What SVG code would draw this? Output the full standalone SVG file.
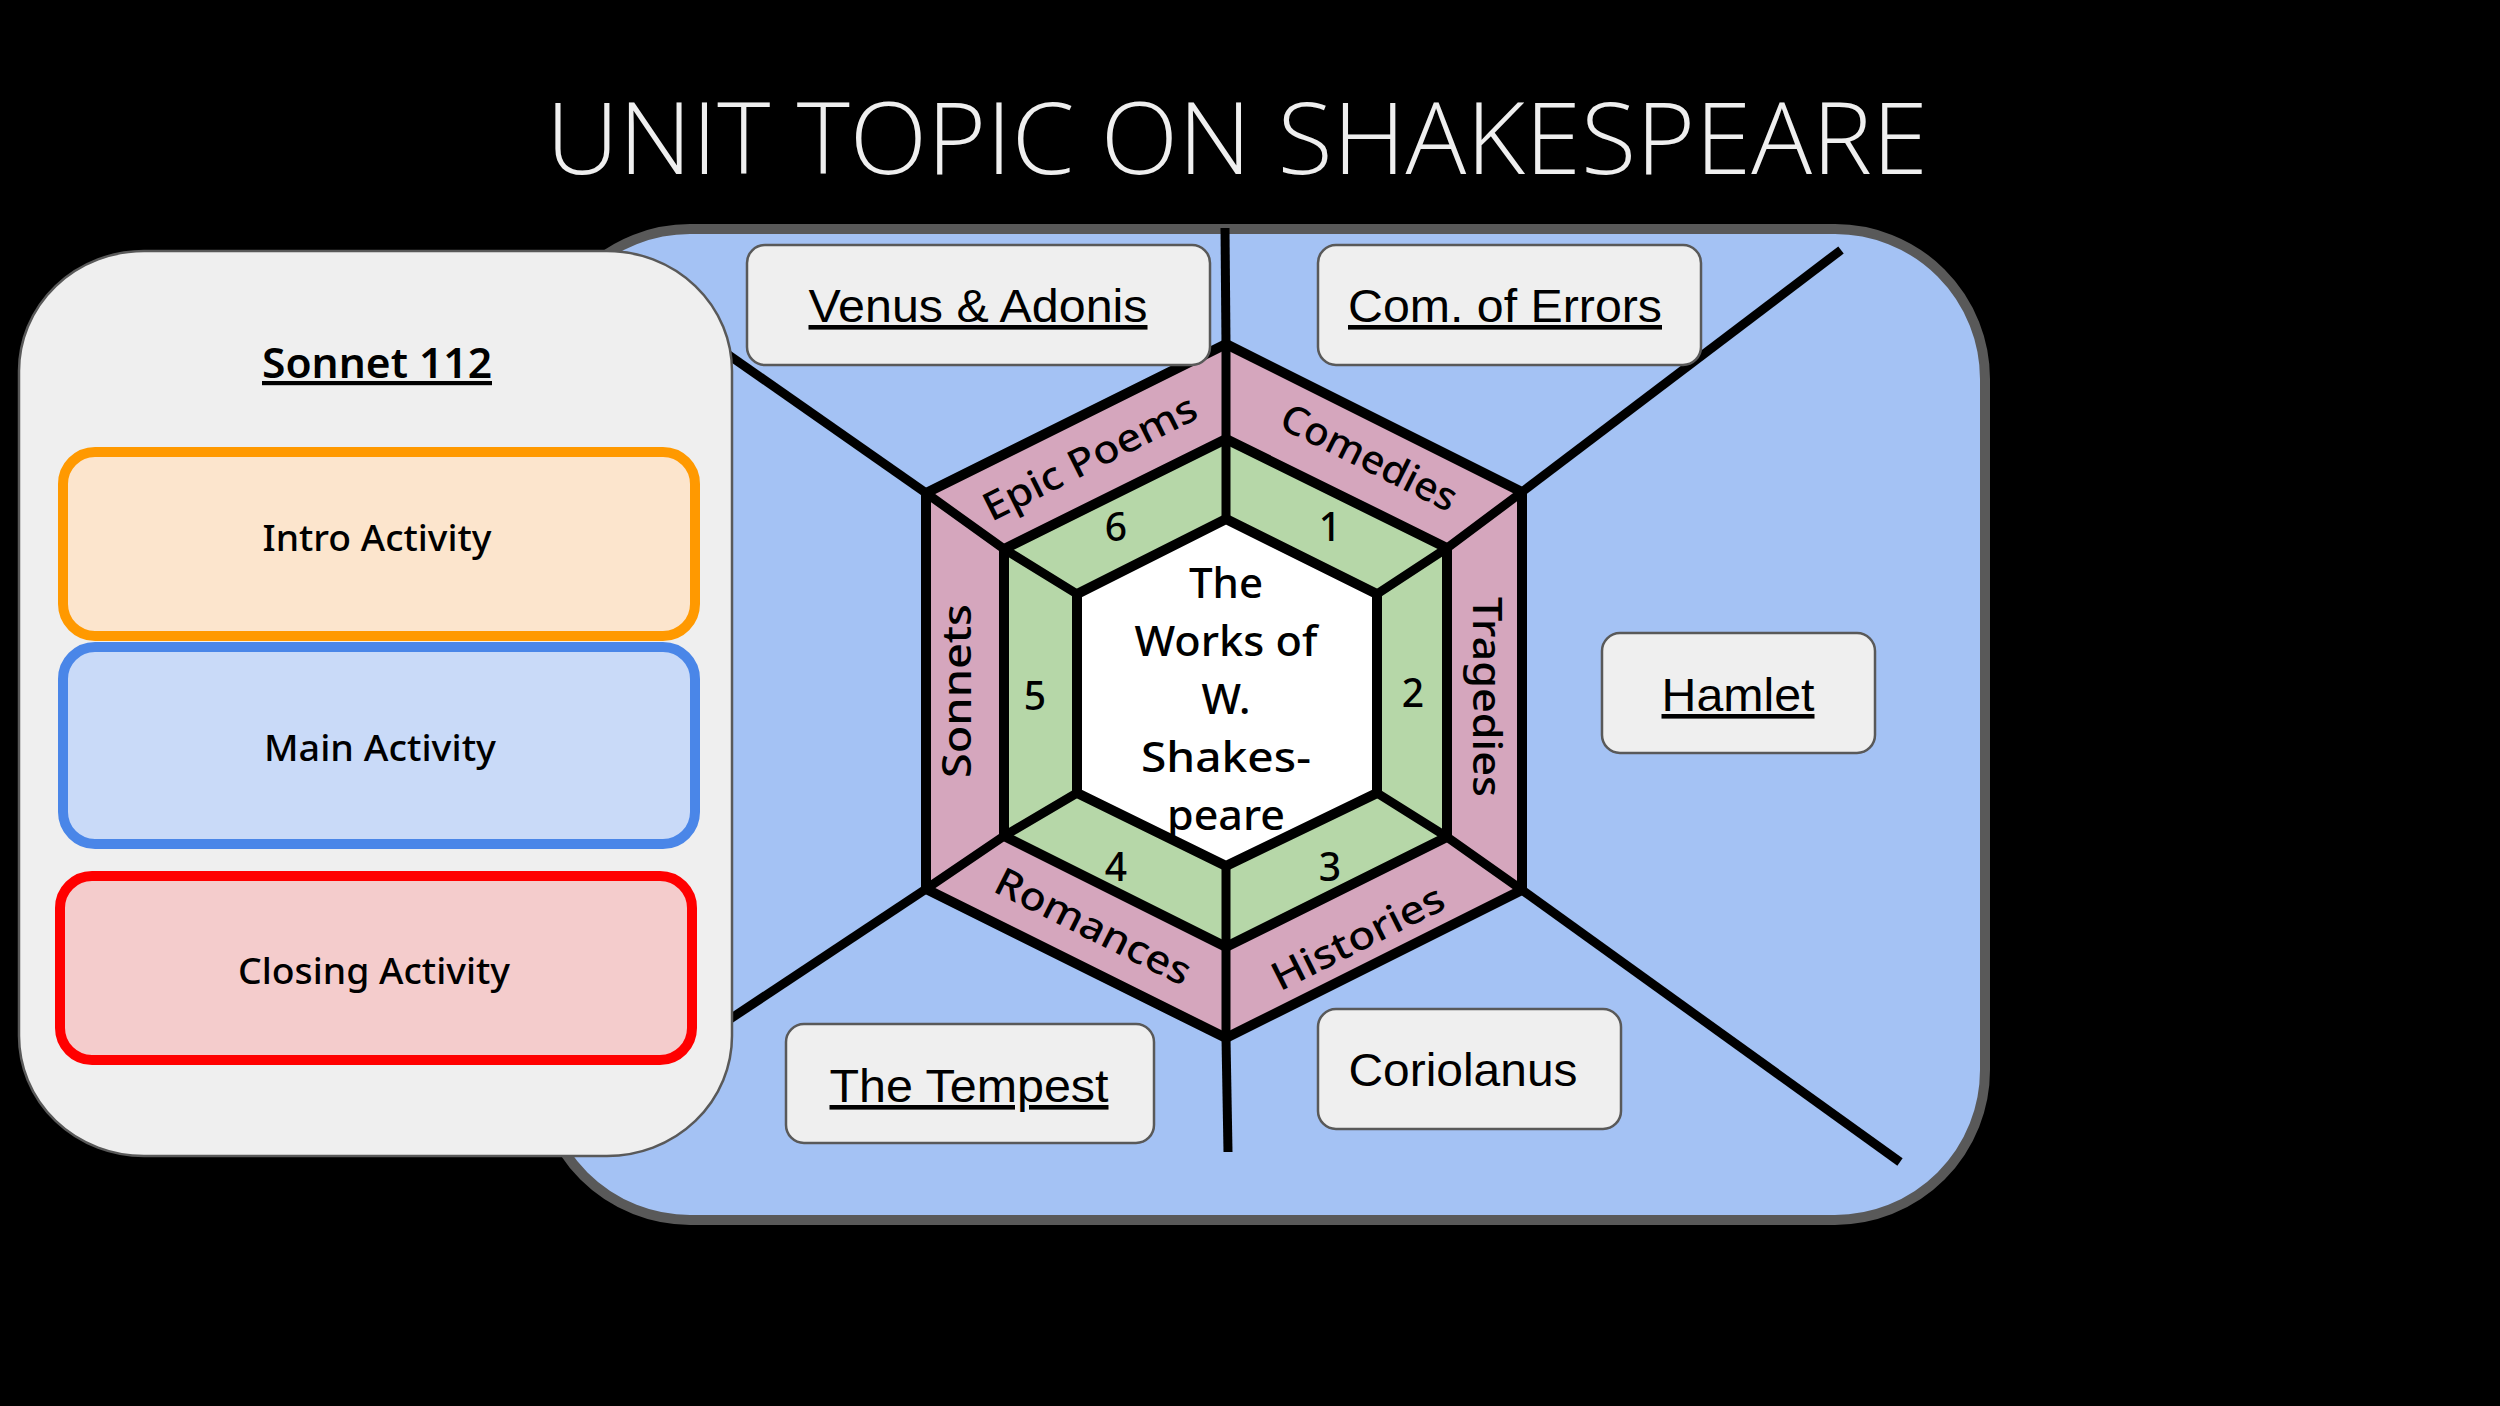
<svg xmlns="http://www.w3.org/2000/svg" width="2500" height="1406" viewBox="0 0 2500 1406">
<style>
.book{fill:#efefef;stroke:#595959;stroke-width:2.5}
.booktxt{font-family:"Liberation Sans",Arial,sans-serif;font-size:46px;fill:#000;text-anchor:middle}
.ul{text-decoration:underline}
.line{stroke:#000;stroke-width:9;fill:none;stroke-linecap:butt}
.hex{stroke:#000;stroke-width:10;stroke-linejoin:miter}
.lab{font-family:"Noto Sans","DejaVu Sans",sans-serif;font-size:39px;font-weight:500;fill:#000;text-anchor:middle}
.num{font-family:"Noto Sans","DejaVu Sans",sans-serif;font-size:39px;font-weight:500;fill:#000;text-anchor:middle}
.ctr{font-family:"Noto Sans","DejaVu Sans",sans-serif;font-size:42px;font-weight:500;fill:#000;text-anchor:middle}
.act{font-family:"Noto Sans","DejaVu Sans",sans-serif;font-size:37px;font-weight:500;fill:#000;text-anchor:middle}
</style>
<rect x="0" y="0" width="2500" height="1406" fill="#000"/>
<text id="title" x="1237" y="174" text-anchor="middle" font-family="'Open Sans','Noto Sans',sans-serif" font-weight="300" font-size="100" textLength="1382" lengthAdjust="spacingAndGlyphs" fill="#efefef">UNIT TOPIC ON SHAKESPEARE</text>

<g id="container">
<rect x="540" y="229" width="1445" height="991" rx="150" ry="150" fill="#a4c2f4" stroke="#595959" stroke-width="10"/>
</g>

<g id="connectors">
<line class="line" x1="1225" y1="228" x2="1226" y2="344"/>
<line class="line" x1="1226" y1="1038" x2="1228" y2="1152"/>
<line class="line" x1="1522" y1="492" x2="1841" y2="250"/>
<line class="line" x1="1522" y1="890" x2="1900" y2="1162"/>
<line class="line" x1="926" y1="493" x2="700" y2="335"/>
<line class="line" x1="926" y1="889" x2="700" y2="1039"/>
</g>

<g id="hexagon">
<polygon class="hex" fill="#d5a6bd" points="1226,344 1522,492 1522,890 1226,1038 926,889 926,493"/>
<polygon class="hex" fill="#b6d7a8" points="1226,439 1447,548 1447,837 1226,947 1004,836 1004,549"/>
<polygon class="hex" fill="#ffffff" points="1226,519 1377,594 1377,793 1226,866 1077,793 1077,594"/>
<polyline class="line" points="1226,344 1226,439 1226,519"/>
<polyline class="line" points="1522,492 1447,548 1377,594"/>
<polyline class="line" points="1522,890 1447,837 1377,793"/>
<polyline class="line" points="1226,1038 1226,947 1226,866"/>
<polyline class="line" points="926,889 1004,836 1077,793"/>
<polyline class="line" points="926,493 1004,549 1077,594"/>
</g>

<g id="genre-comedies"><text class="lab" transform="translate(1369,458) rotate(26.6)" y="13" textLength="192" lengthAdjust="spacingAndGlyphs">Comedies</text></g>
<g id="genre-tragedies"><text class="lab" transform="translate(1486,697) rotate(90)" y="13" textLength="200" lengthAdjust="spacingAndGlyphs">Tragedies</text></g>
<g id="genre-histories"><text class="lab" transform="translate(1358,938) rotate(-26.6)" y="13" textLength="188" lengthAdjust="spacingAndGlyphs">Histories</text></g>
<g id="genre-romances"><text class="lab" transform="translate(1093,927) rotate(26.6)" y="13" textLength="214" lengthAdjust="spacingAndGlyphs">Romances</text></g>
<g id="genre-sonnets"><text class="lab" transform="translate(958,691) rotate(-90)" y="13" textLength="174" lengthAdjust="spacingAndGlyphs">Sonnets</text></g>
<g id="genre-epic"><text class="lab" transform="translate(1090,458) rotate(-26.6)" y="13" textLength="234" lengthAdjust="spacingAndGlyphs">Epic Poems</text></g>

<g id="numbers">
<text class="num" x="1330" y="541">1</text>
<text class="num" x="1413" y="707">2</text>
<text class="num" x="1330" y="881">3</text>
<text class="num" x="1116" y="881">4</text>
<text class="num" x="1035" y="710">5</text>
<text class="num" x="1116" y="541">6</text>
</g>

<g id="center">
<text class="ctr" x="1226" y="598">The</text>
<text class="ctr" x="1226" y="656" textLength="183" lengthAdjust="spacingAndGlyphs">Works of</text>
<text class="ctr" x="1226" y="714">W.</text>
<text class="ctr" x="1226" y="772" textLength="170" lengthAdjust="spacingAndGlyphs">Shakes-</text>
<text class="ctr" x="1226" y="830" textLength="118" lengthAdjust="spacingAndGlyphs">peare</text>
</g>

<g id="venus">
<rect class="book" x="747" y="245" width="463" height="120" rx="18"/>
<text class="booktxt ul" x="978" y="322" textLength="339" lengthAdjust="spacingAndGlyphs">Venus &amp; Adonis</text>
</g>
<g id="errors">
<rect class="book" x="1318" y="245" width="383" height="120" rx="18"/>
<text class="booktxt ul" x="1505" y="322" textLength="314" lengthAdjust="spacingAndGlyphs">Com. of Errors</text>
</g>
<g id="hamlet">
<rect class="book" x="1602" y="633" width="273" height="120" rx="18"/>
<text class="booktxt ul" x="1738" y="711" textLength="153" lengthAdjust="spacingAndGlyphs">Hamlet</text>
</g>
<g id="tempest">
<rect class="book" x="786" y="1024" width="368" height="119" rx="18"/>
<text class="booktxt ul" x="969" y="1102" textLength="279" lengthAdjust="spacingAndGlyphs">The Tempest</text>
</g>
<g id="coriolanus">
<rect class="book" x="1318" y="1009" width="303" height="120" rx="18"/>
<text class="booktxt" x="1463" y="1086" textLength="229" lengthAdjust="spacingAndGlyphs">Coriolanus</text>
</g>

<g id="lesson-panel">
<rect x="19" y="251" width="713" height="905" rx="125" ry="120" fill="#efefef" stroke="#595959" stroke-width="2.5"/>
<text x="377" y="378" text-anchor="middle" font-family="'Noto Sans','DejaVu Sans',sans-serif" font-size="42" font-weight="600" text-decoration="underline" textLength="230" lengthAdjust="spacingAndGlyphs">Sonnet 112</text>
</g>
<g id="intro">
<rect x="63" y="452" width="632" height="184" rx="32" fill="#fce5cd" stroke="#ff9900" stroke-width="10"/>
<text class="act" x="377" y="551" textLength="229" lengthAdjust="spacingAndGlyphs">Intro Activity</text>
</g>
<g id="main">
<rect x="63" y="647" width="632" height="197" rx="32" fill="#c9daf8" stroke="#4a86e8" stroke-width="10"/>
<text class="act" x="380" y="761" textLength="232" lengthAdjust="spacingAndGlyphs">Main Activity</text>
</g>
<g id="closing">
<rect x="60" y="876" width="632" height="184" rx="32" fill="#f4cccc" stroke="#ff0000" stroke-width="10"/>
<text class="act" x="374" y="984" textLength="272" lengthAdjust="spacingAndGlyphs">Closing Activity</text>
</g>
</svg>
